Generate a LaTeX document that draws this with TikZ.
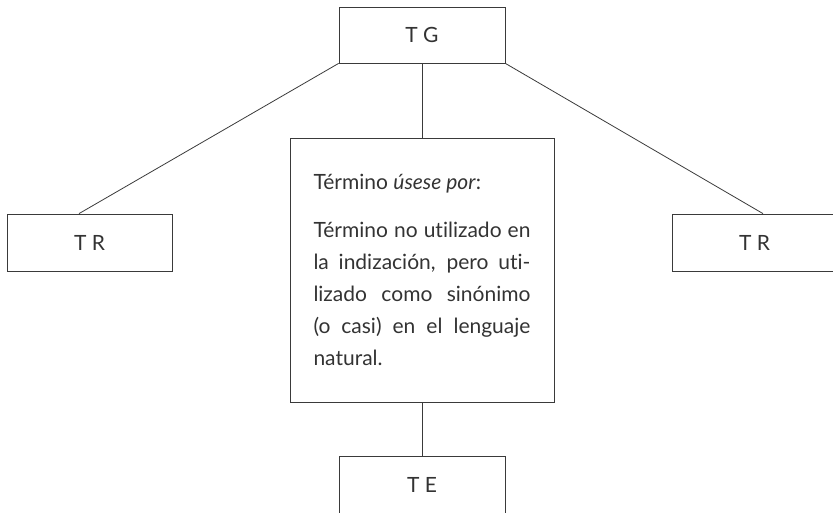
\documentclass[tikz,border=0pt]{standalone}
\usepackage{fontspec}
\setmainfont{Lato}[Ligatures={NoCommon}]
\definecolor{MyText}{HTML}{333333}
\definecolor{MyLine}{HTML}{3A3A3A}

\begin{document}
\begin{tikzpicture}[x=1pt, y=-1pt,
	every node/.style={text=MyText, font=\fontsize{21}{25}\selectfont},
	term/.style={draw=MyLine, line width=0.8pt, minimum width=166pt, minimum height=56pt, inner sep=0pt},
	link/.style={draw=MyLine, line width=0.8pt}]
%		\draw [step=10, gray, thin, opacity=0.5] (0,0) grid (833,512);
		\useasboundingbox (0,0) rectangle (833,512);
		
		\node[term] (TG) at (422, 35) {T G};
		
		\node[term, minimum width=165pt, minimum height=57pt] (TRl) at (89.5, 242.5) {T R};
		\node[term, minimum width=165pt, minimum height=57pt] (TRr) at (754.5, 242.5) {T R};
		
		\node[term, minimum height=57pt] (TE) at (422, 484.5) {T E};
		
		\node[draw=MyLine, line width=0.8pt, minimum size=264pt, text width=217pt, inner xsep=23.5pt, inner ysep=0pt, align=justify, font=\fontsize{21}{32}\selectfont] (UP) at (422, 270)
			{\hyphenpenalty=10000 Término \textit{úsese por}:\par\vspace{16pt}Término no utilizado en\linebreak la indización, pero uti-\linebreak lizado como sinónimo\linebreak (o casi) en el lenguaje\linebreak natural.};
		
		\draw[link] (TG.south west) -- ([xshift=-10.5pt]TRl.north);
		\draw[link] (TG.south east) -- ([xshift=8.5pt]TRr.north);
		
		\draw[link] (TG.south) -- (UP.north);
		\draw[link] (UP.south) -- (TE.north);
	\end{tikzpicture}
\end{document}
